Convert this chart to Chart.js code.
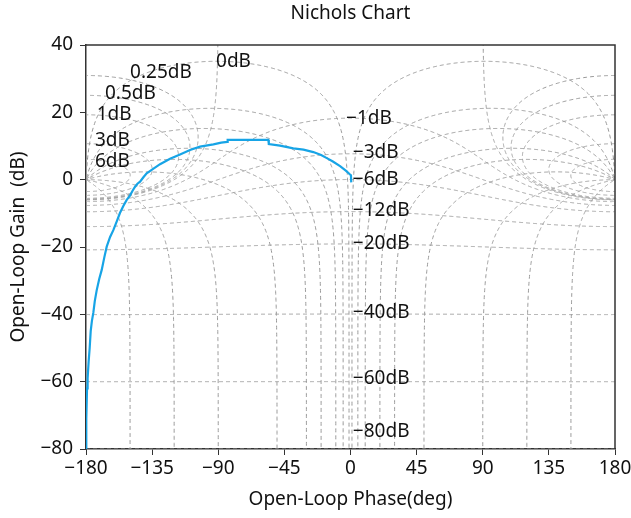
<!DOCTYPE html>
<html>
<head>
<meta charset="utf-8">
<script src="https://cdn.jsdelivr.net/npm/chart.js@4/dist/chart.umd.min.js"></script>
<style>
  html, body { margin: 0; padding: 0; background: #fff; }
</style>
</head>
<body>
<canvas id="nichols" width="631" height="518"></canvas>
<script>
// open-loop response: phase (deg) and gain (dB)
const phaseDeg = [-180, -180, -179.6, -179.3, -178.9, -178.2, -177.5, -176.8, -176, -175, -174, -172.7,
  -171, -169.3, -167.5, -165.9, -163.6, -161.4, -159, -156.9, -154.6, -152.3, -150.2, -148.3, -146.6,
  -145, -143.2, -140.8, -138.7, -135.3, -129.6, -122.8, -116, -109.2, -102.4, -93.3, -88, -83.8, -83.6,
  -55.9, -55.6, -48, -38.9, -32, -25.3, -20, -16.1, -12, -7.1, -3, -0.5, 0.3, 0.5];
const gainDb = [-80, -72, -71, -62, -59, -54, -50, -45, -42, -39.5, -36, -32.8,
  -29.5, -26.8, -23, -19.9, -17, -15, -12.3, -9.9, -7.8, -6, -4.8, -3.3, -2.1,
  -1.2, -0.6, 0.8, 1.9, 2.9, 4.6, 6.2, 7.5, 8.8, 9.8, 10.5, 11.0, 11.2, 11.8,
  11.8, 10.6, 10.1, 9.3, 8.9, 8.2, 7.3, 6.4, 5.4, 4.0, 2.6, 1.6, 1.3, -0.8];

// Nichols grid: closed-loop gain (dB) and closed-loop phase (deg) levels
const mLevels = [6, 3, 1, 0.5, 0.25, 0, -1, -3, -6, -12, -20, -40, -60, -80];
const nLevels = [-150, -120, -90, -50, -30, -20, -10, -5, -1, 1, 5, 10, 20, 30, 50, 90, 120, 150];

const phaseTicks = [-180, -135, -90, -45, 0, 45, 90, 135, 180];
const gainTicks = [-80, -60, -40, -20, 0, 20, 40];

const titleText = 'Nichols Chart';

// grid labels and where they sit
const labelText = ['6dB', '3dB', '1dB', '0.5dB', '0.25dB', '0dB', '\u22121dB', '\u22123dB', '\u22126dB',
  '\u221212dB', '\u221220dB', '\u221240dB', '\u221260dB', '\u221280dB'];
const labelPhase = [-173.9, -173.9, -172.7, -167.1, -150, -91.5, -3, 1.6, 1.6, 1.6, 1.6, 1.6, 1.6, 1.6];
const labelGain = [5.5, 11.5, 19.2, 25.7, 31.8, 35, 18.2, 8, -0.1, -9.3, -18.9, -39.4, -59, -74.9];

const RAD = Math.PI / 180;

// constant closed-loop gain contour, T = M e^{jp}, L = T / (1 - T)
function mContour(db) {
  const M = Math.pow(10, db / 20);
  const pts = [];
  const N = 1200;
  function half(p0) {
    for (let i = 1; i < N; i++) {
      const p = (p0 + 90 * (1 - Math.cos(Math.PI * i / N))) * RAD;
      const tr = M * Math.cos(p), ti = M * Math.sin(p);
      const dr = 1 - tr, di = -ti;
      const den = dr * dr + di * di;
      const lr = (tr * dr + ti * di) / den;
      const li = (ti * dr - tr * di) / den;
      let ph = Math.atan2(li, lr) / RAD;
      if (p0 === 180 && ph > 0) ph -= 360;
      if (p0 === 0 && ph < 0) ph += 360;
      pts.push({ x: ph, y: 10 * Math.log10(lr * lr + li * li) });
    }
  }
  half(180);
  if (M >= 1) pts.push({ x: 0, y: null });
  half(0);
  return pts;
}

// constant closed-loop phase contour: |L| = sin(psi - th) / sin(th)
function nContour(th) {
  const s = Math.sign(th);
  const span = 180 - Math.abs(th);
  const ds = [];
  for (let i = 0; i <= 300; i++) ds.push(span * Math.pow(10, -8 + 8 * i / 300));
  for (let i = 1; i < 400; i++) ds.push(span * i / 400);
  ds.sort((a, b) => a - b);
  return ds.map(d => ({
    x: th + s * d,
    y: 20 * Math.log10(Math.sin(d * RAD) / Math.sin(Math.abs(th) * RAD))
  }));
}

const gridStyle = {
  borderColor: '#999999',
  borderWidth: 1,
  borderDash: [4, 3],
  pointRadius: 0,
  showLine: true,
  fill: false,
  order: 1
};

const datasets = [{
  label: 'response',
  data: phaseDeg.map((p, i) => ({ x: p, y: gainDb[i] })),
  borderColor: '#17a4e6',
  borderWidth: 2.2,
  pointRadius: 0,
  showLine: true,
  fill: false,
  order: 0
}];
mLevels.forEach(m => datasets.push(Object.assign({ label: 'M ' + m, data: mContour(m) }, gridStyle)));
nLevels.forEach(n => datasets.push(Object.assign({ label: 'N ' + n, data: nContour(n) }, gridStyle)));

const fontFamily = '"Noto Sans", "DejaVu Sans", sans-serif';
const fmt = v => (v < 0 ? '\u2212' + (-v) : String(v));

// box on top and right, plus the title over the plot area
const frame = {
  id: 'frame',
  afterDraw(chart) {
    const { ctx, chartArea: a } = chart;
    ctx.save();
    ctx.strokeStyle = '#333';
    ctx.lineWidth = 1.5;
    ctx.beginPath();
    ctx.moveTo(a.left, a.top);
    ctx.lineTo(a.right, a.top);
    ctx.lineTo(a.right, a.bottom);
    ctx.stroke();
    ctx.font = '19px ' + fontFamily;
    ctx.fillStyle = '#111';
    ctx.textAlign = 'center';
    ctx.textBaseline = 'middle';
    ctx.fillText(titleText, (a.left + a.right) / 2, 14);
    ctx.restore();
  }
};

const gridLabels = {
  id: 'gridLabels',
  afterDatasetsDraw(chart) {
    const { ctx, scales: { x, y } } = chart;
    ctx.save();
    ctx.font = '19px ' + fontFamily;
    ctx.fillStyle = '#111';
    ctx.textAlign = 'left';
    ctx.textBaseline = 'middle';
    labelText.forEach((t, i) => {
      ctx.fillText(t, x.getPixelForValue(labelPhase[i]), y.getPixelForValue(labelGain[i]));
    });
    ctx.restore();
  }
};

new Chart(document.getElementById('nichols'), {
  type: 'scatter',
  data: { datasets },
  options: {
    responsive: false,
    animation: false,
    devicePixelRatio: 1,
    layout: { padding: { left: 0, right: 16, top: 45, bottom: 0 } },
    plugins: {
      legend: { display: false },
      tooltip: { enabled: false },
      title: { display: false }
    },
    scales: {
      x: {
        type: 'linear',
        min: -180,
        max: 180,
        afterBuildTicks: s => { s.ticks = phaseTicks.map(v => ({ value: v })); },
        afterFit: s => { s.height = 69; s.paddingLeft = 0; s.paddingRight = 0; },
        ticks: { color: '#111', font: { family: fontFamily, size: 19 }, padding: 2, maxRotation: 0, callback: fmt },
        grid: { drawOnChartArea: false, drawTicks: true, tickLength: 6, color: '#333' },
        border: { display: true, color: '#333', width: 1.5 },
        title: {
          display: true,
          text: 'Open-Loop Phase(deg)',
          color: '#111',
          font: { family: fontFamily, size: 19 },
          padding: { top: 4, bottom: 7 }
        }
      },
      y: {
        type: 'linear',
        min: -80,
        max: 40,
        afterBuildTicks: s => { s.ticks = gainTicks.map(v => ({ value: v })); },
        afterFit: s => { s.width = 86; s.paddingTop = 0; s.paddingBottom = 0; },
        ticks: { color: '#111', font: { family: fontFamily, size: 19 }, padding: 7, callback: fmt },
        grid: { drawOnChartArea: false, drawTicks: true, tickLength: 6, color: '#333' },
        border: { display: true, color: '#333', width: 1.5 },
        title: {
          display: true,
          text: 'Open-Loop Gain  (dB)',
          color: '#111',
          font: { family: fontFamily, size: 19 },
          padding: { top: 7, bottom: 4 }
        }
      }
    }
  },
  plugins: [frame, gridLabels]
});
</script>
</body>
</html>
